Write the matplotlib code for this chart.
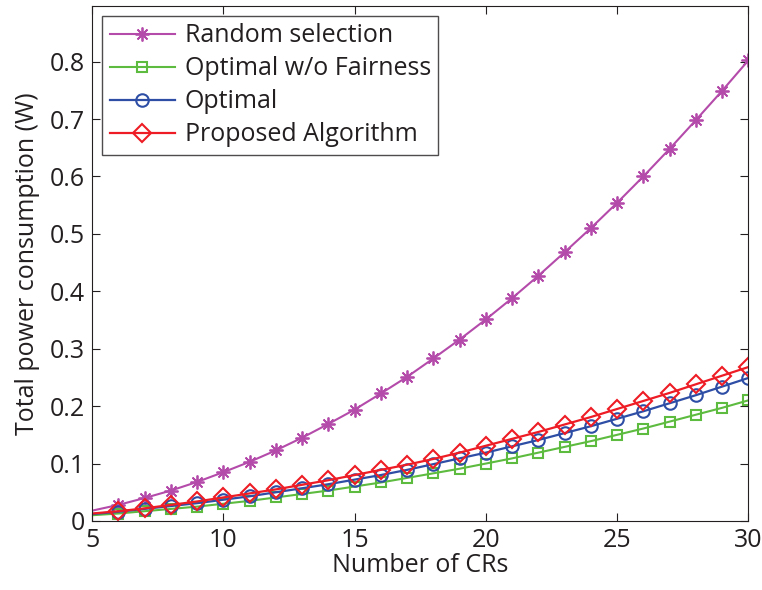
import numpy as np
import matplotlib.pyplot as plt

plt.rcParams['font.family'] = ['Open Sans', 'DejaVu Sans']

n_crs = [5, 6, 7, 8, 9, 10, 11, 12, 13, 14, 15, 16, 17, 18, 19, 20,
         21, 22, 23, 24, 25, 26, 27, 28, 29, 30]

random_sel = [0.018, 0.028, 0.040, 0.053, 0.068, 0.085, 0.103, 0.123, 0.145, 0.169,
              0.194, 0.222, 0.251, 0.283, 0.316, 0.351, 0.388, 0.427, 0.468, 0.510,
              0.554, 0.600, 0.648, 0.698, 0.749, 0.802]
opt_no_fair = [0.010, 0.013, 0.017, 0.021, 0.025, 0.030, 0.035, 0.041, 0.047, 0.053,
               0.060, 0.067, 0.075, 0.083, 0.091, 0.100, 0.109, 0.119, 0.129, 0.139,
               0.150, 0.161, 0.173, 0.185, 0.197, 0.210]
optimal = [0.012, 0.016, 0.021, 0.026, 0.031, 0.037, 0.043, 0.050, 0.057, 0.064,
           0.072, 0.080, 0.089, 0.099, 0.109, 0.119, 0.130, 0.141, 0.153, 0.165,
           0.178, 0.191, 0.205, 0.219, 0.234, 0.249]
proposed = [0.013, 0.017, 0.022, 0.028, 0.034, 0.041, 0.048, 0.055, 0.063, 0.071,
            0.080, 0.089, 0.098, 0.108, 0.119, 0.131, 0.143, 0.155, 0.168, 0.181,
            0.195, 0.209, 0.223, 0.238, 0.253, 0.268]

fig = plt.figure(figsize=(7.62, 5.9), dpi=100)
ax = fig.add_axes([0.121, 0.117, 0.861, 0.873])

# markers only from x=6 on, line starts at x=5
marks = list(range(1, len(n_crs)))
ax.plot(n_crs, random_sel, '-', color='#B44BAA', marker=(8, 2, 0), markersize=10,
        markeredgewidth=1.3, markevery=marks, lw=1.5, label='Random selection')
ax.plot(n_crs, opt_no_fair, '-', color='#5DBB3F', marker='s', markersize=7.5,
        markerfacecolor='none', markeredgewidth=1.5, markevery=marks, lw=1.5,
        label='Optimal w/o Fairness')
ax.plot(n_crs, optimal, '-', color='#2E4EA6', marker='o', markersize=9,
        markerfacecolor='none', markeredgewidth=1.5, markevery=marks, lw=1.6,
        label='Optimal')
ax.plot(n_crs, proposed, '-', color='#EE1C25', marker='D', markersize=9,
        markerfacecolor='none', markeredgewidth=1.5, markevery=marks, lw=1.6,
        label='Proposed Algorithm')

ax.set_xlim(5, 30)
ax.set_ylim(0, 0.897)
ax.set_xticks([5, 10, 15, 20, 25, 30])
ax.set_yticks([0, 0.1, 0.2, 0.3, 0.4, 0.5, 0.6, 0.7, 0.8])
ax.set_yticklabels(['0', '0.1', '0.2', '0.3', '0.4', '0.5', '0.6', '0.7', '0.8'])
ax.tick_params(direction='in', top=True, right=True, labelsize=18, length=6,
               colors='#231F20', pad=5)
for s in ax.spines.values():
    s.set_color('#231F20')
ax.set_xlabel('Number of CRs', fontsize=18, color='#231F20', labelpad=0)
ax.set_ylabel('Total power consumption (W)', fontsize=18, color='#231F20', labelpad=7)

leg = ax.legend(loc='upper left', fontsize=18, frameon=True, fancybox=False,
                edgecolor='#231F20', borderaxespad=0.4, handlelength=2.6,
                handletextpad=0.4, labelspacing=0.32, borderpad=0.3)
leg.get_frame().set_linewidth(1.0)
for t in leg.get_texts():
    t.set_color('#231F20')

fig.savefig('out.png', dpi=100)
